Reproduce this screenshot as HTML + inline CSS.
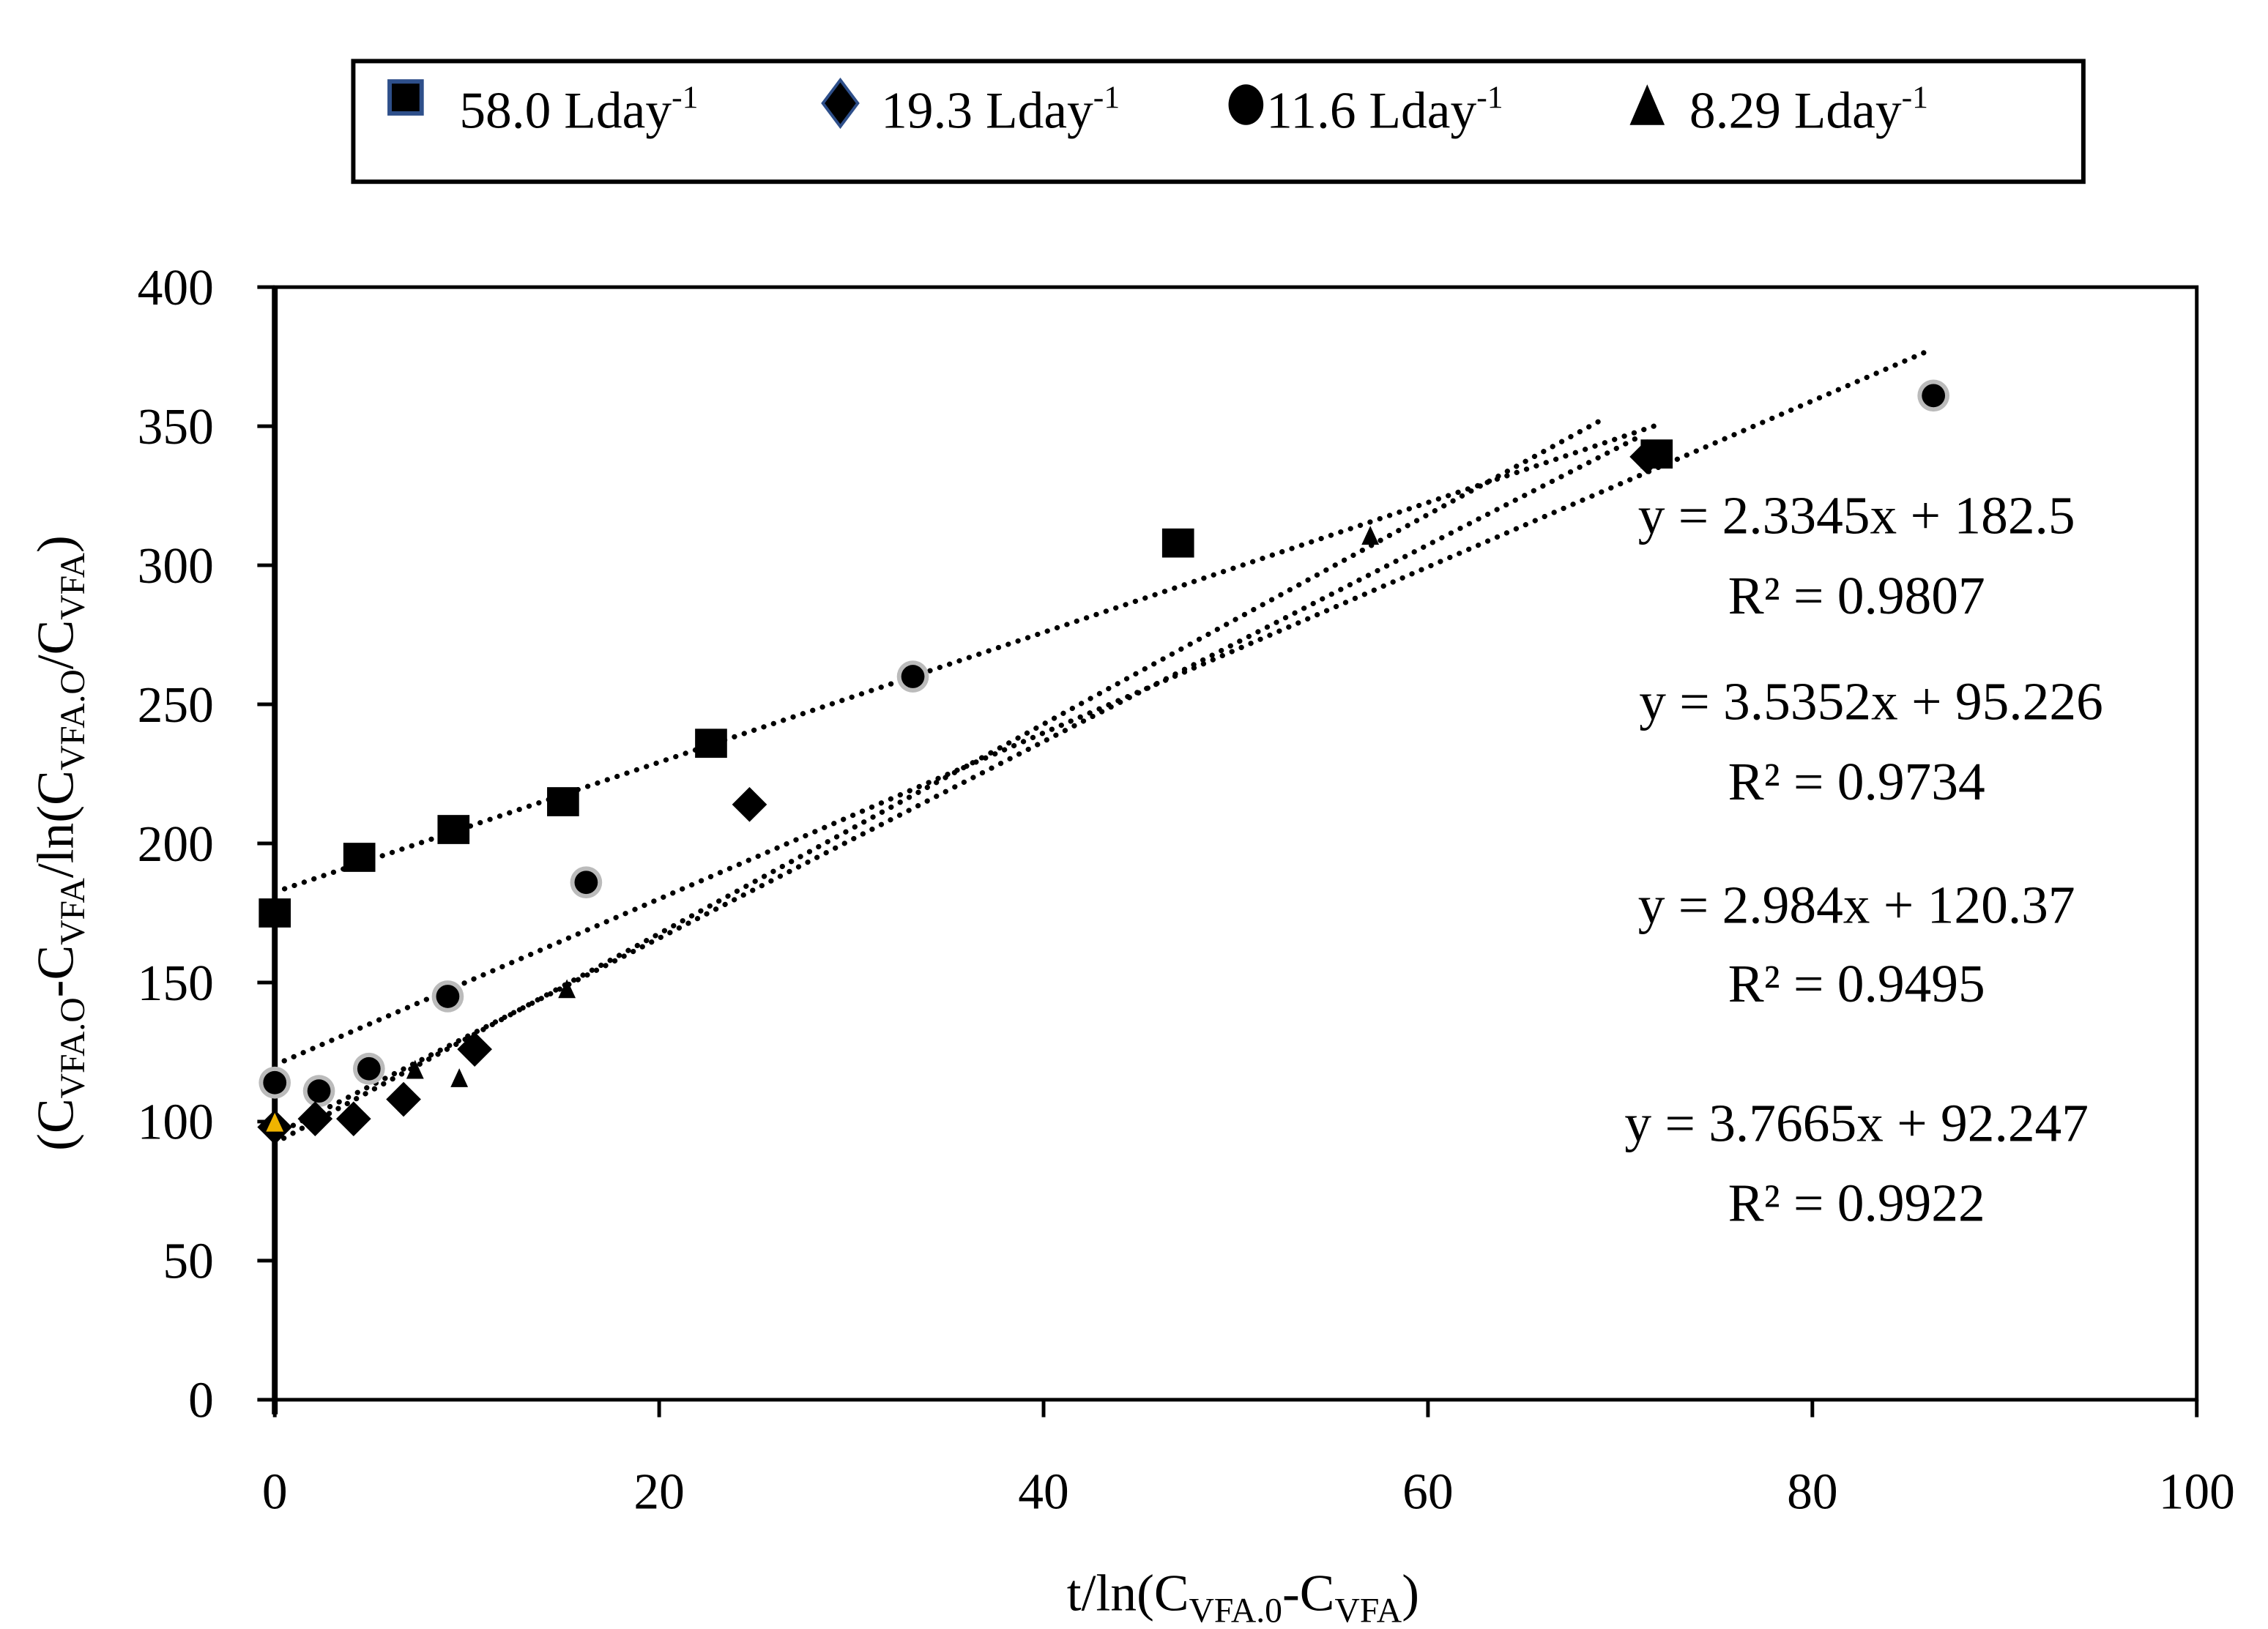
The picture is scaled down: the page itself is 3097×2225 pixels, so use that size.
<!DOCTYPE html>
<html><head><meta charset="utf-8"><style>
html,body{margin:0;padding:0;background:#fff;}
svg{display:block;font-family:"Liberation Serif",serif;}
</style></head><body>
<svg id="chart" width="3097" height="2225" viewBox="0 0 1560 1120.7" xmlns="http://www.w3.org/2000/svg">
<rect x="0" y="0" width="1560" height="1121" fill="#fff"/>
<g>
<rect x="243" y="42" width="1190" height="83" fill="#fff" stroke="#000" stroke-width="3"/>
<rect x="268" y="56" width="22" height="22" fill="#000" stroke="#2e4f8a" stroke-width="3"/>
<text x="316" y="88" font-size="36">58.0 Lday<tspan font-size="22" dy="-14">-1</tspan></text>
<polygon points="578,55 590,71 578,87 566,71" fill="#000" stroke="#2e4f8a" stroke-width="2"/>
<text x="606" y="88" font-size="36">19.3 Lday<tspan font-size="22" dy="-14">-1</tspan></text>
<ellipse cx="857" cy="72" rx="12" ry="14" fill="#000"/>
<text x="871" y="88" font-size="36">11.6 Lday<tspan font-size="22" dy="-14">-1</tspan></text>
<polygon points="1133,58 1145,86 1121,86" fill="#000"/>
<text x="1162" y="88" font-size="36">8.29 Lday<tspan font-size="22" dy="-14">-1</tspan></text>
</g>
<g id="axes"></g>
<g id="marks"></g>
<g font-size="37" text-anchor="middle">
<text x="1277" y="367">y = 2.3345x + 182.5</text>
<text x="1277" y="422">R² = 0.9807</text>
<text x="1287" y="495">y = 3.5352x + 95.226</text>
<text x="1277" y="550">R² = 0.9734</text>
<text x="1277" y="635">y = 2.984x + 120.37</text>
<text x="1277" y="689">R² = 0.9495</text>
<text x="1277" y="785">y = 3.7665x + 92.247</text>
<text x="1277" y="840">R² = 0.9922</text>
</g>
<text x="855" y="1108" font-size="36" text-anchor="middle">t/ln(C<tspan font-size="24" dy="8">VFA.0</tspan><tspan dy="-8">-C</tspan><tspan font-size="24" dy="8">VFA</tspan><tspan dy="-8">)</tspan></text>
<text transform="translate(50,580) rotate(-90)" font-size="36" text-anchor="middle">(C<tspan font-size="24" dy="8">VFA.O</tspan><tspan dy="-8">-C</tspan><tspan font-size="24" dy="8">VFA</tspan><tspan dy="-8">/ln(C</tspan><tspan font-size="24" dy="8">VFA.O</tspan><tspan dy="-8">/C</tspan><tspan font-size="24" dy="8">VFA</tspan><tspan dy="-8">)</tspan></text>
</svg>
<script>
const xTicks=[0,20,40,60,80,100];
const yTicks=[0,50,100,150,200,250,300,350,400];
const sqX=[0,4.4,9.3,15,22.7,47,71.9];
const sqY=[175,195,205,215,236,308,340];
const diX=[0,2.1,4.1,6.7,10.4,24.7,71.4];
const diY=[98,101,101,108,126,214,339];
const ciX=[0,2.3,4.9,9,16.2,33.2,86.3];
const ciY=[114,111,119,145,186,260,361];
const trX=[0,7.3,9.6,15.2,57,71.7];
const trY=[99,118,115,147,310,338];
const slopes=[2.3345,3.5352,2.984,3.7665];
const intercepts=[182.5,95.226,120.37,92.247];
const lineEnd=[72,71,86.2,69];
const NS="http://www.w3.org/2000/svg";
const X0=189,X1=1511,Y0=963,Y1=197.5;
function sx(v){return X0+(v-0)/(100-0)*(X1-X0);}
function sy(v){return Y0-(v-0)/(400-0)*(Y0-Y1);}
function mk(tag,attrs,parent){const e=document.createElementNS(NS,tag);for(const k in attrs)e.setAttribute(k,attrs[k]);parent.appendChild(e);return e;}
const axes=document.getElementById('axes');
const marks=document.getElementById('marks');
const frame=mk('rect',{x:X0,y:Y1,width:X1-X0,height:Y0-Y1,fill:'none',stroke:'#000','stroke-width':2.5},axes);


const ya=mk('line',{x1:X0,y1:Y1,x2:X0,y2:Y0+10,stroke:'#000','stroke-width':4},axes);


yTicks.forEach(t=>{
  const l=mk('line',{x1:X0-12,y1:sy(t),x2:X0,y2:sy(t),stroke:'#000','stroke-width':2.5},axes);
  
  
  const tx=mk('text',{x:147,y:sy(t)+12,'font-size':35,'text-anchor':'end'},axes);
  tx.textContent=t;
  
  
});
xTicks.forEach(t=>{
  const l=mk('line',{x1:sx(t),y1:Y0,x2:sx(t),y2:Y0+12,stroke:'#000','stroke-width':2.5},axes);
  
  
  const tx=mk('text',{x:sx(t),y:1038,'font-size':35,'text-anchor':'middle'},axes);
  tx.textContent=t;
  
  
});
slopes.forEach((m,i)=>{
  const l=mk('line',{x1:sx(0),y1:sy(intercepts[i]),x2:sx(lineEnd[i]),y2:sy(intercepts[i]+m*lineEnd[i]),stroke:'#000','stroke-width':3.6,'stroke-dasharray':'0.1 7','stroke-linecap':'round'},marks);
  
  
});
ciX.forEach((v,i)=>{
  const g=mk('circle',{cx:sx(v),cy:sy(ciY[i]),r:11,fill:'#bbb'},marks);
  
  
  const c=mk('circle',{cx:sx(v),cy:sy(ciY[i]),r:8,fill:'#000'},marks);
  
  
});
diX.forEach((v,i)=>{
  const x=sx(v),y=sy(diY[i]);
  const p=mk('polygon',{points:`${x},${y-12} ${x+12},${y} ${x},${y+12} ${x-12},${y}`,fill:'#000'},marks);
  
  
});
trX.forEach((v,i)=>{
  const x=sx(v),y=sy(trY[i]);
  const p=mk('polygon',{points:`${x},${y-8} ${x+6},${y+5} ${x-6},${y+5}`,fill:i===0?'#f0b400':'#000'},marks);
  
  
});
sqX.forEach((v,i)=>{
  const r=mk('rect',{x:sx(v)-11,y:sy(sqY[i])-10,width:22,height:20,fill:'#000'},marks);
  
  
});
</script>
</body></html>
